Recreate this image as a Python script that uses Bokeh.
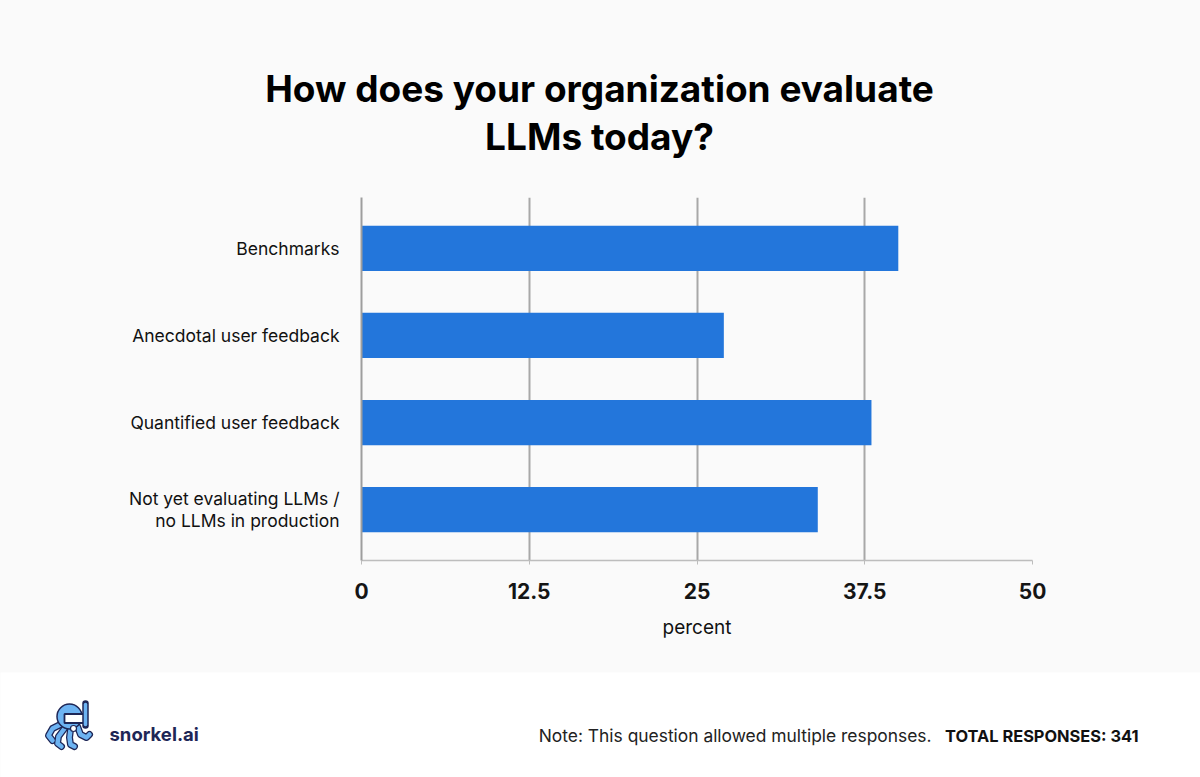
from bokeh.plotting import figure
from bokeh.models import Range1d, FactorRange, FixedTicker, Label, ColumnDataSource
from bokeh.layouts import column
from bokeh.embed import file_html
from bokeh.resources import INLINE

# ---- data ----
categories = ["Benchmarks", "Anecdotal user feedback", "Quantified user feedback",
              "Not yet evaluating LLMs /\nno LLMs in production"]
percents = [40, 27, 38, 34]
tick_values = [0, 12.5, 25, 37.5, 50]
tick_labels = ["0", "12.5", "25", "37.5", "50"]
title_lines = ["How does your organization evaluate", "LLMs today?"]
note_text = "Note: This question allowed multiple responses."
total_text = "TOTAL RESPONSES: 341"
brand_text = "snorkel.ai"

BG = "#FAFAFA"
BAR = "#2376DB"
GRID = "#A8A8A8"
FONT = "Inter"
NAVY = "#1E2656"
LB = "#6DB3F2"

W = 1200
H_TITLE = 160
H_MAIN = 512
H_FOOT = 105


def bare_figure(h, y0, y1, bg):
    f = figure(width=W, height=h, output_backend="svg", toolbar_location=None,
               x_range=Range1d(0, W), y_range=Range1d(y1, y0), min_border=0)
    try:
        f.frame_align = False
    except Exception:
        pass
    f.title.visible = False
    f.axis.visible = False
    f.grid.visible = False
    f.outline_line_color = None
    f.background_fill_color = bg
    f.border_fill_color = bg
    return f


# ---- title ----
t = bare_figure(H_TITLE, 0, H_TITLE, BG)
for txt, yb in zip(title_lines, [88, 136]):
    t.add_layout(Label(x=599, y=yb, text=txt, text_align="center",
                       text_baseline="alphabetic", text_font=FONT,
                       text_font_size="37px", text_font_style="bold",
                       text_color="#000000"))

# ---- main chart ----
src = ColumnDataSource(dict(cat=categories, val=percents))

p = figure(width=W, height=H_MAIN, output_backend="svg", toolbar_location=None,
           x_range=Range1d(0, 50),
           y_range=FactorRange(factors=categories[::-1], range_padding=0.085,
                               range_padding_units="absolute"),
           min_border_left=361, min_border_right=168, min_border_top=37,
           min_border_bottom=112)
try:
    p.frame_align = False
except Exception:
    pass
p.title.visible = False
p.background_fill_color = BG
p.border_fill_color = BG
p.outline_line_color = None

p.hbar(y="cat", right="val", left=0, height=0.52, source=src,
       fill_color=BAR, line_color=None)

p.xaxis.ticker = FixedTicker(ticks=tick_values)
p.xaxis.major_label_overrides = {v: l for v, l in zip(tick_values, tick_labels)}
p.xaxis.axis_line_color = "#BDBDBD"
p.xaxis.axis_line_width = 1.5
p.xaxis.major_tick_line_color = "#BDBDBD"
p.xaxis.major_tick_out = 4
p.xaxis.major_tick_in = 0
p.xaxis.minor_tick_line_color = None
p.xaxis.major_label_text_font = FONT
p.xaxis.major_label_text_font_size = "21px"
p.xaxis.major_label_text_font_style = "bold"
p.xaxis.major_label_text_color = "#151515"
p.xaxis.major_label_standoff = 18
p.xaxis.axis_label = "percent"
p.xaxis.axis_label_text_font = FONT
p.xaxis.axis_label_text_font_size = "19px"
p.xaxis.axis_label_text_font_style = "normal"
p.xaxis.axis_label_text_color = "#111111"
p.xaxis.axis_label_standoff = 14

p.yaxis.axis_line_color = "#9E9E9E"
p.yaxis.axis_line_width = 2
p.yaxis.major_tick_line_color = None
p.yaxis.major_tick_out = 0
p.yaxis.minor_tick_line_color = None
p.yaxis.major_label_text_font = FONT
p.yaxis.major_label_text_font_size = "17.5px"
p.yaxis.major_label_text_color = "#111111"
p.yaxis.major_label_text_line_height = 1.05
p.yaxis.major_label_standoff = 22

p.xgrid.grid_line_color = GRID
p.xgrid.grid_line_width = 2
p.ygrid.grid_line_color = None

# ---- footer ----
f = bare_figure(H_FOOT, 672, 672 + H_FOOT, "white")

# logo (decorative approximation of the octopus mark)
tx = [[60, 52, 48, 52], [64, 58, 57, 61], [70, 69, 70, 74], [77, 80, 86, 89]]
ty = [[724, 728, 735, 740], [728, 736, 743, 746], [729, 737, 744, 746], [726, 734, 737, 734]]
f.multi_line(xs=tx, ys=ty, line_color=NAVY, line_width=7, line_cap="round", line_join="round")
f.multi_line(xs=tx, ys=ty, line_color=LB, line_width=4.5, line_cap="round", line_join="round")
f.circle(x=[69], y=[716], radius=12.5, fill_color=LB, line_color=NAVY, line_width=1.5)
f.rect(x=[74], y=[718], width=20, height=9, fill_color="white", line_color=NAVY,
       line_width=1.8)
f.circle(x=[73], y=[728], radius=3, fill_color="white", line_color=NAVY, line_width=1.2)
f.line(x=[85, 85], y=[725, 703], line_color=NAVY, line_width=6.5, line_cap="round")
f.line(x=[85, 85], y=[724, 704], line_color=LB, line_width=3.5, line_cap="round")

f.add_layout(Label(x=109, y=733, text=brand_text, text_font=FONT, text_font_size="18.5px",
                   text_font_style="bold", text_color=NAVY, text_baseline="alphabetic"))
f.add_layout(Label(x=931, y=735, text=note_text, text_font=FONT, text_font_size="17.4px",
                   text_color="#222222", text_align="right", text_baseline="alphabetic"))
f.add_layout(Label(x=1138, y=735, text=total_text, text_font=FONT, text_font_size="16.4px",
                   text_font_style="bold", text_color="#111111", text_align="right",
                   text_baseline="alphabetic"))

layout = column(t, p, f, spacing=0, styles={"background-color": BG})
open("out.html", "w").write(file_html(layout, INLINE))
